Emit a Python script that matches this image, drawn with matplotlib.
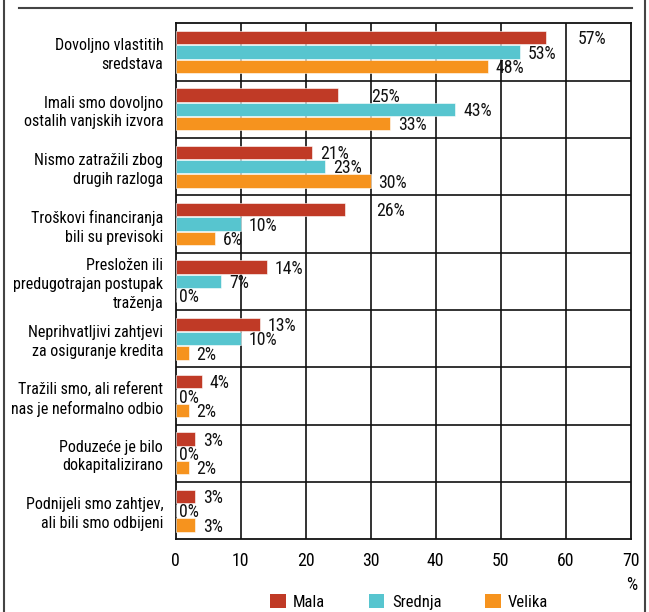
import matplotlib
matplotlib.use("Agg")
import matplotlib.pyplot as plt
from matplotlib.patches import Patch
from matplotlib.lines import Line2D
import numpy as np

plt.rcParams['font.family'] = ['Roboto Condensed', 'DejaVu Sans']

categories = [
    "Dovoljno vlastitih\nsredstava",
    "Imali smo dovoljno\nostalih vanjskih izvora",
    "Nismo zatražili zbog\ndrugih razloga",
    "Troškovi financiranja\nbili su previsoki",
    "Presložen ili\npredugotrajan postupak\ntraženja",
    "Neprihvatljivi zahtjevi\nza osiguranje kredita",
    "Tražili smo, ali referent\nnas je neformalno odbio",
    "Poduzeće je bilo\ndokapitalizirano",
    "Podnijeli smo zahtjev,\nali bili smo odbijeni",
]
series_names = ["Mala", "Srednja", "Velika"]
mala = [57, 25, 21, 26, 14, 13, 4, 3, 3]
srednja = [53, 43, 23, 10, 7, 10, 0, 0, 0]
velika = [48, 33, 30, 6, 0, 2, 2, 2, 3]
x_ticks = [0, 10, 20, 30, 40, 50, 60, 70]

colors = ["#C03A26", "#57C5CF", "#F6931E"]
# extra horizontal nudges (data units) for a few labels so they clear neighbours
label_nudge = {(0, 0): 3.6, (0, 1): 3.8, (0, 3): 3.6}

W, H = 649, 612
FS = 11.5
NUM_FS = 12.8
fig = plt.figure(figsize=(W / 100, H / 100), dpi=100)
left, right, top, bottom = 175.7, 630.7, 23.3, 539.3
ax = fig.add_axes([left / W, 1 - bottom / H, (right - left) / W, (bottom - top) / H])

y = np.arange(len(categories))
offsets = [-0.25, 0.0, 0.25]
bar_h = 0.235
for s, (vals, col, off) in enumerate(zip([mala, srednja, velika], colors, offsets)):
    ax.barh(y + off, vals, height=bar_h, color=col, edgecolor="white", linewidth=0.4, zorder=3)
    for i, v in enumerate(vals):
        nudge = label_nudge.get((s, i), 0.0)
        xpos = v + 1.2 + nudge if v > 0 else 0.5
        ax.text(xpos, y[i] + off + 0.03, f"{v}%", va="center", ha="left",
                fontsize=NUM_FS, color="#111111", zorder=4)

ax.set_xlim(0, 70)
ax.set_ylim(len(categories) - 0.5, -0.5)
ax.set_xticks(x_ticks)
ax.set_xticklabels([str(t) for t in x_ticks], fontsize=NUM_FS)
ax.set_yticks(y)
ax.set_yticklabels(categories, fontsize=FS, linespacing=1.3)
ax.tick_params(axis="both", length=0)
ax.tick_params(axis="x", pad=9)
ax.tick_params(axis="y", pad=9)
for lab in ax.get_yticklabels():
    lab.set_horizontalalignment("right")
    lab.set_multialignment("right")

for xv in x_ticks[1:-1]:
    ax.axvline(xv, color="#111111", lw=1.2, zorder=1)
for yb in np.arange(0.5, len(categories) - 0.5, 1.0):
    ax.axhline(yb, color="#111111", lw=1.2, zorder=1)
for sp in ax.spines.values():
    sp.set_color("#111111")
    sp.set_linewidth(1.3)

fig.text(632 / W, 1 - 585 / H, "%", ha="center", va="center", fontsize=NUM_FS)

handles = [Patch(facecolor=c, edgecolor="none") for c in colors]
fig.legend(handles, series_names, loc="center", bbox_to_anchor=(409 / W, 1 - 602 / H),
           ncol=3, frameon=False, fontsize=FS + 0.5, handlelength=0.95, handleheight=0.95,
           handletextpad=0.45, columnspacing=2.6, borderaxespad=0, borderpad=0)

# page frame lines
fig.add_artist(Line2D([19 / W, 632 / W], [1 - 7.5 / H, 1 - 7.5 / H], color="#444444", lw=1.5))
fig.add_artist(Line2D([4 / W, 4 / W], [0, 1], color="#444444", lw=1.5))
fig.add_artist(Line2D([644.5 / W, 644.5 / W], [0, 1], color="#444444", lw=1.5))

fig.savefig("out.png", dpi=100)
